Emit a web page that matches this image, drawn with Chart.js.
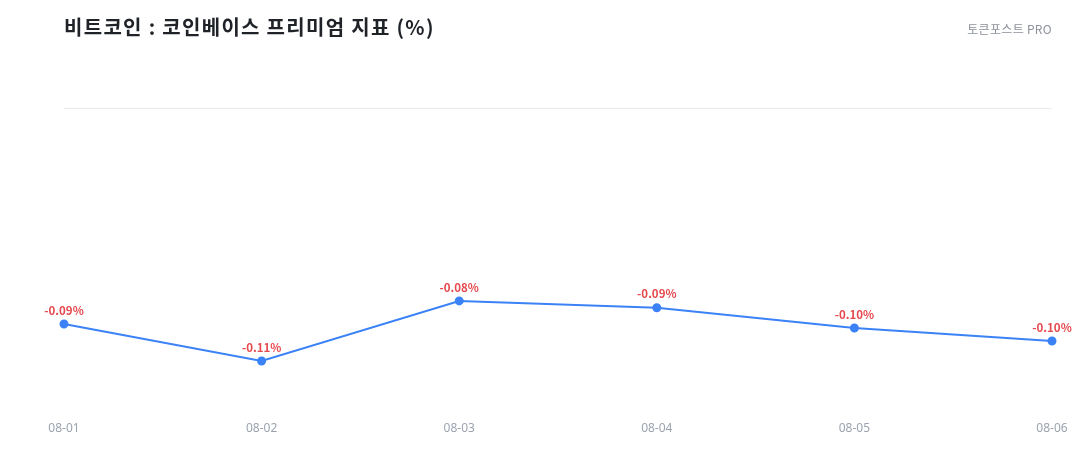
<!DOCTYPE html>
<html>
<head>
<meta charset="utf-8">
<script src="https://cdn.jsdelivr.net/npm/chart.js@4"></script>
<style>
  html, body { margin: 0; padding: 0; background: #fff; }
  #wrap { position: relative; width: 1080px; height: 460px; font-family: "Noto Sans CJK KR", "Noto Sans", sans-serif; }
  #title { position: absolute; left: 64px; top: 12px; font-size: 20px; font-weight: 700; letter-spacing: 1.3px; color: #1f2328; }
  #brand { position: absolute; right: 28px; top: 20px; font-size: 12px; color: #8b9099; letter-spacing: 0.3px; }
  canvas { position: absolute; left: 0; top: 0; }
</style>
</head>
<body>
<div id="wrap">
  <canvas id="premiumChart" width="1080" height="460"></canvas>
  <div id="title">비트코인 : 코인베이스 프리미엄 지표 (%)</div>
  <div id="brand">토큰포스트 PRO</div>
</div>
<script>
// dates and premium values (%)
const dates = ['08-01', '08-02', '08-03', '08-04', '08-05', '08-06'];
const premium = [-0.0939, -0.1117, -0.0828, -0.0861, -0.0958, -0.1021];
const yMin = -0.137;
const yMax = 0.01;

// draws the red value label above each point
const valueLabels = {
    id: 'valueLabels',
    afterDatasetsDraw(chart) {
        const ctx = chart.ctx;
        const meta = chart.getDatasetMeta(0);
        ctx.save();
        ctx.font = 'bold 11.5px "Noto Sans CJK KR", "Noto Sans", sans-serif';
        ctx.fillStyle = '#e5484d';
        ctx.textAlign = 'center';
        ctx.textBaseline = 'bottom';
        meta.data.forEach((pt, i) => {
            ctx.fillText(premium[i].toFixed(2) + '%', pt.x, pt.y - 8);
        });
        ctx.restore();
    }
};

const chartCtx = document.getElementById('premiumChart').getContext('2d');

new Chart(chartCtx, {
    type: 'line',
    data: {
        labels: dates,
        datasets: [{
            data: premium,
            borderColor: '#3b82f6',
            backgroundColor: '#3b82f6',
            borderWidth: 2,
            pointRadius: 3.5,
            pointHoverRadius: 4,
            tension: 0
        }]
    },
    options: {
        responsive: false,
        animation: false,
        layout: { padding: { left: 64, right: 28, top: 108, bottom: 24 } },
        plugins: {
            legend: { display: false },
            tooltip: { enabled: false }
        },
        scales: {
            x: {
                offset: false,
                grid: { display: false },
                border: { display: false },
                ticks: {
                    color: '#9ca3af',
                    font: { size: 12, family: '"Noto Sans", sans-serif' },
                    padding: 0,
                    maxRotation: 0
                }
            },
            y: {
                min: yMin,
                max: yMax,
                border: { display: false },
                ticks: { display: false },
                grid: {
                    drawTicks: false,
                    color: (c) => (c.tick && Math.abs(c.tick.value - yMax) < 1e-9) ? '#e8eaed' : 'rgba(0,0,0,0)'
                },
                afterFit: (s) => { s.width = 0; }
            }
        }
    },
    plugins: [valueLabels]
});
</script>
</body>
</html>
